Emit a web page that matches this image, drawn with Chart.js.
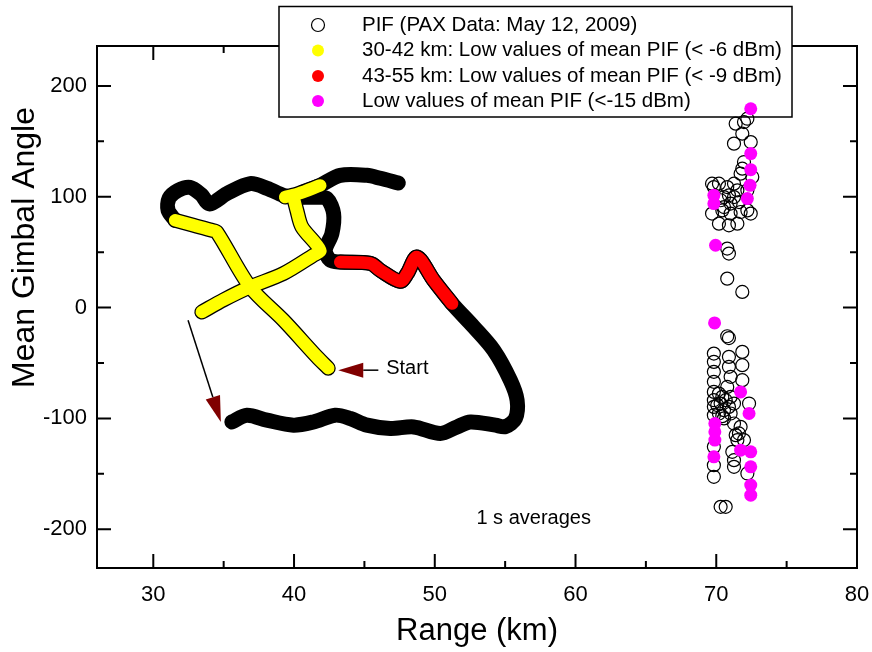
<!DOCTYPE html>
<html>
<head>
<meta charset="utf-8">
<script src="https://cdn.jsdelivr.net/npm/chart.js@4.4.1/dist/chart.umd.min.js"></script>
<style>
  html, body { margin: 0; padding: 0; background: #fff; }
  #chart { display: block; }
</style>
</head>
<body>
<canvas id="chart" width="872" height="652"></canvas>
<script>
// ---- data (Range km, Mean Gimbal Angle deg) ----
const rangeTicks = [30, 40, 50, 60, 70, 80];
const rangeMinorTicks = [35, 45, 55, 65, 75];
const angleTicks = [-200, -100, 0, 100, 200];
const angleMinorTicks = [-150, -50, 50, 150];

// black PIF track (1 s averages along the flight)
const trackNorthWest = [
    [31.55, 78.7], [31.05, 87.7], [31.12, 98.6], [31.76, 105.8], [32.61, 108.5],
    [33.4, 102], [34.0, 93.5], [35.22, 102.8], [36.88, 111.8], [38.09, 107.6],
    [39.23, 101.3], [39.94, 99.5], [41.5, 99.5], [42.34, 98.3], [42.81, 84.8],
    [42.69, 66.7], [42.22, 51.7], [42.57, 42.7], [43.28, 41.1]
];
const trackNorth = [
    [40.6, 104], [41.86, 110.3], [43.28, 119.3], [45.18, 119.3], [46.13, 116.6], [47.41, 112.4]
];
const trackEast = [
    [51.23, 3.6], [52.77, -17.5], [54.19, -38.5], [55.37, -65.6], [55.85, -83.6],
    [55.73, -100.1], [55.02, -107.5]
];
const trackSouth = [
    [55.02, -107.5], [54.31, -106.1], [52.53, -103.2], [51.58, -107.7], [50.4, -113.6],
    [48.5, -107.7], [46.84, -109.1], [45.18, -106.1], [44.0, -100.1], [42.93, -97.1],
    [41.38, -103.2], [39.96, -106.1], [38.07, -101.6], [36.65, -97.1], [35.58, -103.2]
];

// 30-42 km low PIF (< -6 dBm)
const yellowLegA = [
    [42.43, -54.7], [41.63, -44.5], [39.25, -11.5], [36.88, 18.6], [34.51, 68.2],
    [34.16, 69.7], [32.85, 74.2], [31.55, 78.7]
];
const yellowLegB = [
    [33.45, -4.0], [35.0, 7.0], [36.88, 18.6], [39.25, 30.7], [41.38, 47.2],
    [41.86, 51.7], [40.56, 72.7], [40.2, 87.7], [39.96, 99.7]
];
const yellowLegC = [[39.37, 99.7], [40.3, 102.8], [41.86, 110.2]];

// 43-55 km low PIF (< -9 dBm)
const redLeg = [
    [43.28, 41.1], [45.42, 39.9], [46.13, 33.6], [47.55, 23.7], [48.05, 30.9],
    [48.74, 45.6], [49.92, 24.6], [51.23, 3.6]
];

// PIF points near 70 km
const pifCluster = [
    [71.38, 165.9], [71.97, 167.4], [72.21, 170.4], [71.26, 147.9], [71.85, 156.9],
    [72.45, 149.3], [71.97, 131.3], [71.85, 125.3], [72.56, 117.8], [71.73, 120.8],
    [69.83, 108.7], [70.19, 111.8], [70.78, 108.7], [71.26, 111.8], [71.5, 105.8],
    [70.55, 99.7], [71.02, 93.8], [71.62, 95.2], [70.43, 87.7], [71.02, 84.8],
    [71.73, 86.2], [70.19, 75.7], [70.9, 74.2], [71.5, 75.7], [72.21, 87.7],
    [72.45, 84.8], [69.7, 84.8], [69.7, 111.8], [70.55, 90.7], [71.26, 99.7],
    [72.21, 105.8], [70.31, 96.8], [70.9, 101.3],
    [70.78, 53.2], [70.9, 48.7], [70.78, 26.1], [71.85, 14.1],
    [70.78, -25.9], [70.9, -27.5],
    [69.83, -41.5], [69.83, -49], [69.83, -58], [69.83, -67], [69.83, -76.1],
    [69.83, -83.6], [69.83, -89.6], [69.83, -97.1], [69.83, -125.7], [69.83, -142.2],
    [69.83, -152.7],
    [70.9, -44.5], [70.9, -53.5], [71.02, -62.5], [70.78, -71.6], [71.02, -80.6],
    [71.26, -86.6], [71.02, -95.6], [71.26, -104.6], [71.38, -115.1], [71.5, -119.6],
    [71.14, -130.2], [71.26, -137.7], [71.26, -143.7],
    [71.85, -40], [71.85, -52], [71.85, -65.5], [72.33, -86.6], [71.73, -107.6],
    [71.61, -113.6], [71.97, -119.6], [72.21, -149.7],
    [70.19, -77.6], [70.43, -80.6], [70.31, -86.6], [70.55, -92.6], [70.19, -95.6],
    [70.67, -83.6], [70.9, -89.6], [70.43, -98], [70.07, -88], [70.55, -100],
    [70.31, -179.8], [70.67, -179.8]
];

// low PIF (< -15 dBm)
const magentaPoints = [
    [72.45, 179.4], [72.45, 138.9], [72.45, 124.4], [72.4, 110.3], [72.21, 98.3],
    [69.83, 101.3], [69.83, 93.8], [69.95, 56.2],
    [69.88, -13.9], [69.9, -104.6], [69.9, -112.1], [69.9, -119.6], [69.83, -134.7],
    [71.73, -76.1], [72.33, -95.6], [71.73, -128.7], [72.45, -130.2], [72.45, -143.7],
    [72.45, -160.2], [72.45, -169.3]
];

const legendRows = [
    { text: 'PIF (PAX Data: May 12, 2009)', color: null },
    { text: '30-42 km: Low values of mean PIF (< -6 dBm)', color: '#ffff00' },
    { text: '43-55 km: Low values of mean PIF (< -9 dBm)', color: '#ff0000' },
    { text: 'Low values of mean PIF (<-15 dBm)', color: '#ff00ff' }
];

const toPts = arr => arr.map(([x, y]) => ({ x, y }));
const FONT = "'Liberation Sans', Arial, sans-serif";

Chart.defaults.font.family = FONT;
Chart.defaults.color = '#000';

function trackLine(points, color, width, order) {
    return {
        data: toPts(points),
        showLine: true,
        borderColor: color,
        borderWidth: width,
        borderCapStyle: 'round',
        borderJoinStyle: 'round',
        tension: 0.3,
        pointRadius: 0,
        pointHoverRadius: 0,
        order
    };
}

const blackLoop = [...trackNorthWest, ...redLeg.slice(1), ...trackEast.slice(1), ...trackSouth.slice(1)];

const datasets = [
    trackLine(blackLoop, '#000', 15, 20),
    trackLine(trackNorth, '#000', 15, 20),
    trackLine(yellowLegA, '#000', 15, 12),
    trackLine(yellowLegB, '#000', 15, 12),
    trackLine(yellowLegC, '#000', 15, 12),
    trackLine(redLeg, '#000', 15, 12),
    trackLine(yellowLegA, '#ffff00', 12.5, 11),
    trackLine(yellowLegB, '#ffff00', 12.5, 11),
    trackLine(yellowLegC, '#ffff00', 12.5, 11),
    trackLine(redLeg, '#ff0000', 12.5, 11),
    {
        label: legendRows[0].text,
        data: toPts(pifCluster),
        pointRadius: 6.5,
        pointBorderWidth: 1.2,
        pointBorderColor: '#000',
        pointBackgroundColor: 'rgba(0,0,0,0)',
        order: 5
    },
    {
        label: legendRows[3].text,
        data: toPts(magentaPoints),
        pointRadius: 6.5,
        pointBorderWidth: 0,
        pointBackgroundColor: '#ff00ff',
        order: 4
    }
];

function arrow(ctx, x0, y0, x1, y1, headLen, headHalf) {
    const dx = x1 - x0, dy = y1 - y0;
    const len = Math.hypot(dx, dy);
    const ux = dx / len, uy = dy / len;
    const bx = x1 - ux * headLen, by = y1 - uy * headLen;
    ctx.strokeStyle = '#000';
    ctx.lineWidth = 1.5;
    ctx.beginPath();
    ctx.moveTo(x0, y0);
    ctx.lineTo(bx, by);
    ctx.stroke();
    ctx.fillStyle = '#800000';
    ctx.beginPath();
    ctx.moveTo(x1, y1);
    ctx.lineTo(bx - uy * headHalf, by + ux * headHalf);
    ctx.lineTo(bx + uy * headHalf, by - ux * headHalf);
    ctx.closePath();
    ctx.fill();
}

const framePlugin = {
    id: 'framePlugin',
    beforeDraw(chart) {
        const { ctx } = chart;
        ctx.save();
        ctx.fillStyle = '#fff';
        ctx.fillRect(0, 0, chart.width, chart.height);
        ctx.restore();
    },
    beforeDatasetsDraw(chart) {
        const { ctx, chartArea: a, scales: { x, y } } = chart;
        ctx.save();
        ctx.strokeStyle = '#000';
        ctx.lineWidth = 2;
        ctx.strokeRect(a.left, a.top, a.right - a.left, a.bottom - a.top);

        ctx.beginPath();
        const xt = (vals, len) => vals.forEach(v => {
            const px = x.getPixelForValue(v);
            ctx.moveTo(px, a.bottom); ctx.lineTo(px, a.bottom - len);
            ctx.moveTo(px, a.top); ctx.lineTo(px, a.top + len);
        });
        const yt = (vals, len) => vals.forEach(v => {
            const py = y.getPixelForValue(v);
            ctx.moveTo(a.left, py); ctx.lineTo(a.left + len, py);
            ctx.moveTo(a.right, py); ctx.lineTo(a.right - len, py);
        });
        xt(rangeTicks, 14); xt(rangeMinorTicks, 7);
        yt(angleTicks, 14); yt(angleMinorTicks, 7);
        ctx.stroke();

        // legend box, laid over the top axis
        ctx.fillStyle = '#fff';
        ctx.fillRect(279, 6.5, 513, 110.5);
        ctx.lineWidth = 1.5;
        ctx.strokeRect(279, 6.5, 513, 110.5);
        const rowY = [25, 50.5, 76, 101];
        ctx.font = '20.5px ' + FONT;
        ctx.textBaseline = 'middle';
        ctx.textAlign = 'left';
        legendRows.forEach((row, i) => {
            ctx.beginPath();
            if (row.color) {
                ctx.fillStyle = row.color;
                ctx.arc(318, rowY[i], 6, 0, Math.PI * 2);
                ctx.fill();
            } else {
                ctx.strokeStyle = '#000';
                ctx.lineWidth = 1.2;
                ctx.arc(318, rowY[i], 6.5, 0, Math.PI * 2);
                ctx.stroke();
            }
            ctx.fillStyle = '#000';
            ctx.fillText(row.text, 362, rowY[i]);
        });
        ctx.restore();
    },
    afterDatasetsDraw(chart) {
        const { ctx, chartArea: a, scales: { x, y } } = chart;
        ctx.save();
        arrow(ctx, x.getPixelForValue(32.47), y.getPixelForValue(-11.5),
            x.getPixelForValue(34.8), y.getPixelForValue(-103.2), 26, 7.5);
        arrow(ctx, x.getPixelForValue(45.99), y.getPixelForValue(-56.5),
            x.getPixelForValue(43.14), y.getPixelForValue(-56.5), 25, 7.5);
        ctx.fillStyle = '#000';
        ctx.font = '20px ' + FONT;
        ctx.textBaseline = 'middle';
        ctx.textAlign = 'left';
        ctx.fillText('Start', x.getPixelForValue(46.55), y.getPixelForValue(-54.7));
        ctx.fillText('1 s averages', x.getPixelForValue(52.96), y.getPixelForValue(-190));

        // axis titles
        ctx.textBaseline = 'alphabetic';
        ctx.textAlign = 'center';
        ctx.font = '31px ' + FONT;
        ctx.fillText('Range (km)', (a.left + a.right) / 2, 640);
        ctx.translate(33.5, 247.5);
        ctx.rotate(-Math.PI / 2);
        ctx.font = '32px ' + FONT;
        ctx.fillText('Mean Gimbal Angle', 0, 0);
        ctx.restore();
    }
};

new Chart(document.getElementById('chart'), {
    type: 'scatter',
    data: { datasets },
    options: {
        responsive: false,
        animation: false,
        devicePixelRatio: 1,
        layout: { padding: { top: 46, right: 15, left: 0, bottom: 0 } },
        plugins: { legend: { display: false }, tooltip: { enabled: false } },
        scales: {
            x: {
                type: 'linear',
                min: 26,
                max: 80,
                afterBuildTicks: s => { s.ticks = rangeTicks.map(v => ({ value: v })); },
                afterFit: s => { s.height = 84; s.paddingLeft = 0; s.paddingRight = 0; },
                grid: { display: false, drawTicks: false },
                border: { display: false },
                ticks: { font: { size: 22 }, padding: 14, color: '#000' }
            },
            y: {
                type: 'linear',
                min: -235,
                max: 236,
                afterBuildTicks: s => { s.ticks = angleTicks.map(v => ({ value: v })); },
                afterFit: s => { s.width = 97; s.paddingTop = 0; s.paddingBottom = 0; },
                grid: { display: false, drawTicks: false },
                border: { display: false },
                ticks: { font: { size: 22 }, padding: 10, color: '#000' }
            }
        }
    },
    plugins: [framePlugin]
});
</script>
</body>
</html>
